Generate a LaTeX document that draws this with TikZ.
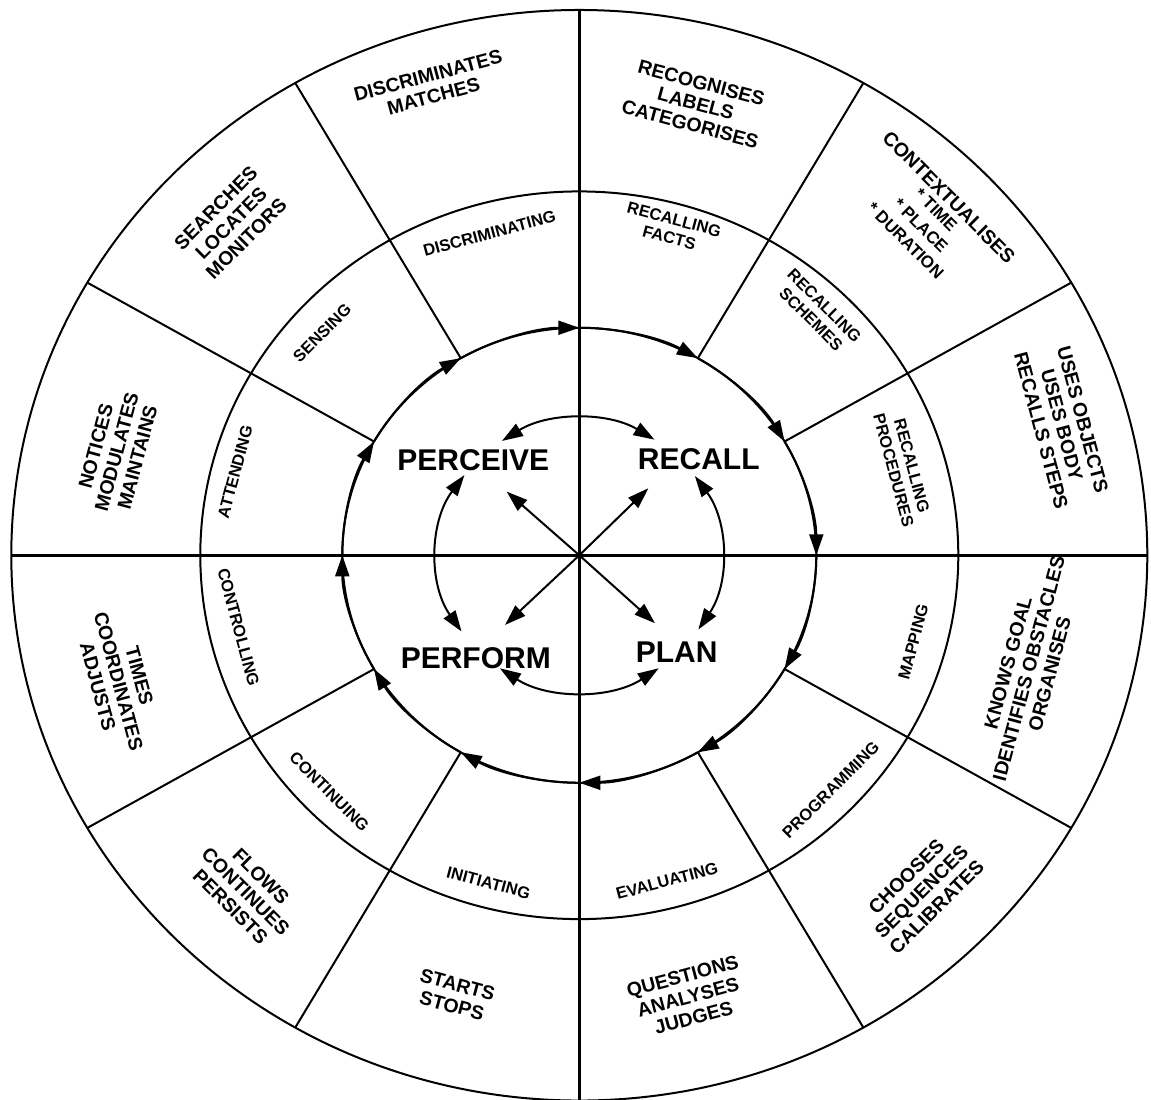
\documentclass[tikz,border=0pt]{standalone}
\usepackage{fontspec}
\setmainfont{Liberation Sans}
\usetikzlibrary{arrows.meta}
\begin{document}
\begin{tikzpicture}[x=1pt,y=1pt,yscale=0.96,
  ring/.style={line width=2pt},
  tip/.style={-{Triangle[length=21pt,width=14pt]}},
  dtip/.style={{Triangle[length=21pt,width=14pt]}-{Triangle[length=21pt,width=14pt]}},
  big/.style={font=\fontsize{30}{32}\selectfont\bfseries, inner sep=0pt},
  outer/.style={font=\fontsize{19.5}{21.5}\selectfont\bfseries, align=center, inner sep=0pt},
  mid/.style={font=\fontsize{16.5}{19}\selectfont\bfseries, align=center, inner sep=0pt}]

\useasboundingbox (-579.3,-566.4) rectangle (571.7,578.4);

\coordinate (c) at (0,0);

% rings
\draw[ring] (c) circle[radius=568pt];
\draw[ring] (c) circle[radius=379pt];
\draw[ring] (c) circle[radius=237pt];

% axes
\coordinate (W) at (180:568);
\coordinate (E) at (0:568);
\coordinate (N) at (90:568);
\coordinate (S) at (270:568);
\draw[line width=3.5pt] (W) -- (E);
\draw[line width=2.5pt] (N) -- (S);

% spokes
\foreach \a in {30,60,120,150,210,240,300,330}{
  \coordinate (si\a) at (\a:237);
  \coordinate (so\a) at (\a:568);
  \draw[ring] (si\a) -- (so\a);
}

% circulating arrows (clockwise)
\foreach \a in {0,30,...,330}{
  \coordinate (p\a) at (\a+30:237);
  \draw[ring,tip] (p\a) arc[start angle=\a+30, end angle=\a, radius=237pt];
}

% inner double arcs
\coordinate (t1) at (58:142);
\draw[ring,dtip] (t1) arc[start angle=58, end angle=123, radius=142pt];
\coordinate (l1) at (144:142);
\draw[ring,dtip] (l1) arc[start angle=144, end angle=214, radius=142pt];
\coordinate (r1) at (-33:142);
\draw[ring,dtip] (r1) arc[start angle=-33, end angle=35.5, radius=142pt];
\coordinate (b1) at (236:142);
\draw[ring,dtip] (b1) arc[start angle=236, end angle=304, radius=142pt];

% diagonal arrows
\coordinate (aNW) at (-72.6,66.3);
\coordinate (aNE) at (69,69.8);
\coordinate (aSW) at (-74.3,-72.6);
\coordinate (aSE) at (75.7,-70.8);
\draw[ring,tip] (c) -- (aNW);
\draw[ring,tip] (c) -- (aNE);
\draw[ring,tip] (c) -- (aSW);
\draw[ring,tip] (c) -- (aSE);

% central labels
\node[big] (perceive) at (-106,99.1) {PERCEIVE};
\node[big] (recall) at (119.5,100.1) {RECALL};
\node[big] (perform) at (-103.5,-107.3) {PERFORM};
\node[big] (plan) at (97.4,-101.3) {PLAN};

% middle ring labels
\node[mid,rotate=15] (m1) at (105:347) {DISCRIMINATING};
\node[mid,rotate=45] (m2) at (138:346) {SENSING};
\node[mid,rotate=75] (m3) at (165.8:355) {ATTENDING};
\node[mid,rotate=-15] (m4) at (74.8:352.6) {RECALLING\\FACTS};
\node[mid,rotate=-45] (m5) at (46.7:347.7) {RECALLING\\SCHEMES};
\node[mid,rotate=-75] (m6) at (15.7:336) {RECALLING\\PROCEDURES};
\node[mid,rotate=75] (m7) at (-15.1:346) {MAPPING};
\node[mid,rotate=45] (m8) at (-44.2:350.8) {PROGRAMMING};
\node[mid,rotate=15] (m9) at (-75.5:350.4) {EVALUATING};
\node[mid,rotate=-15] (m10) at (-104.9:353) {INITIATING};
\node[mid,rotate=-45] (m11) at (-135.4:351) {CONTINUING};
\node[mid,rotate=-75] (m12) at (-167.6:349) {CONTROLLING};

% outer ring labels
\node[outer,rotate=15] (o1) at (106.9:511) {DISCRIMINATES\\MATCHES};
\node[outer,rotate=-15] (o2) at (76.1:484.7) {RECOGNISES\\LABELS\\CATEGORISES};
\node[outer,rotate=-45] (o3) at (45.2:494.3) {CONTEXTUALISES\\[-4pt]{\fontsize{17}{21}\selectfont * TIME}\\{\fontsize{17}{21}\selectfont * PLACE}\\{\fontsize{17}{21}\selectfont * DURATION}};
\node[outer,rotate=-75] (o4) at (15.7:501.4) {USES OBJECTS\\USES BODY\\RECALLS STEPS};
\node[outer,rotate=75] (o5) at (-14.7:464.7) {KNOWS GOAL\\IDENTIFIES OBSTACLES\\ORGANISES};
\node[outer,rotate=45] (o6) at (-45.7:489.9) {CHOOSES\\SEQUENCES\\CALIBRATES};
\node[outer,rotate=15] (o7) at (-76.7:472.9) {QUESTIONS\\ANALYSES\\JUDGES};
\node[outer,rotate=-15] (o8) at (-105.2:475) {STARTS\\STOPS};
\node[outer,rotate=-45] (o9) at (-133.6:483.7) {FLOWS\\CONTINUES\\PERSISTS};
\node[outer,rotate=-75] (o10) at (-164.1:479) {TIMES\\COORDINATES\\ADJUSTS};
\node[outer,rotate=75] (o11) at (166.9:475) {NOTICES\\MODULATES\\MAINTAINS};
\node[outer,rotate=45] (o12) at (135.2:490.8) {SEARCHES\\LOCATES\\MONITORS};
\end{tikzpicture}
\end{document}
